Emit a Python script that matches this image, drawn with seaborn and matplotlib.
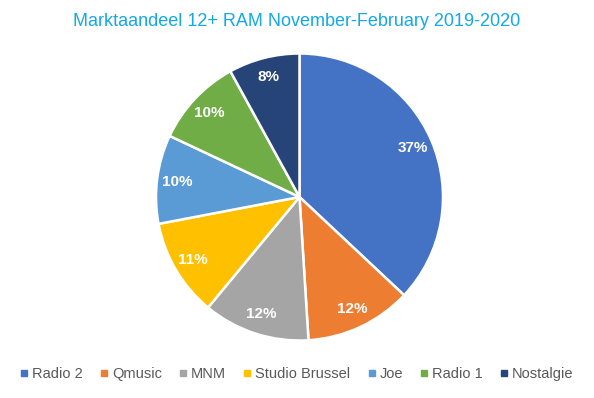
import matplotlib
matplotlib.use("Agg")
import matplotlib.pyplot as plt
from matplotlib.lines import Line2D
import seaborn as sns

# data
zenders = ["Radio 2", "Qmusic", "MNM", "Studio Brussel", "Joe", "Radio 1", "Nostalgie"]
aandeel = [37, 12, 12, 11, 10, 10, 8]
kleuren = ["#4472C4", "#ED7D31", "#A5A5A5", "#FFC000", "#5B9BD5", "#70AD47", "#264478"]

sns.set_theme(style="white")
plt.rcParams["font.family"] = ["Liberation Sans", "DejaVu Sans"]
palette = sns.color_palette(kleuren)

fig = plt.figure(figsize=(5.94, 3.98), dpi=100)
ax = fig.add_axes([156 / 594, (398 - 197 - 143.5) / 398, 287 / 594, 287 / 398])

wedges, texts, autotexts = ax.pie(
    aandeel,
    colors=palette,
    startangle=90,
    counterclock=False,
    autopct="%d%%",
    pctdistance=0.86,
    wedgeprops=dict(edgecolor="white", linewidth=1.8),
    textprops=dict(color="white", fontsize=11, fontweight="bold"),
)
ax.set_xlim(-1, 1)
ax.set_ylim(-1, 1)
ax.set_aspect("equal")

fig.text(0.5, 1 - 21 / 398, "Marktaandeel 12+ RAM November-February 2019-2020",
         ha="center", va="center", fontsize=13, color="#12A9E6")

handles = [Line2D([], [], marker="s", linestyle="", markersize=4.5,
                  markerfacecolor=c, markeredgecolor=c) for c in palette]
fig.legend(handles, zenders, loc="center", bbox_to_anchor=(0.5, 1 - 374 / 398),
           ncol=len(zenders), frameon=False, fontsize=10.5, labelcolor="#595959",
           handlelength=0.5, handletextpad=0.3, columnspacing=1.2)

fig.savefig("out.png", dpi=100, facecolor="white")
